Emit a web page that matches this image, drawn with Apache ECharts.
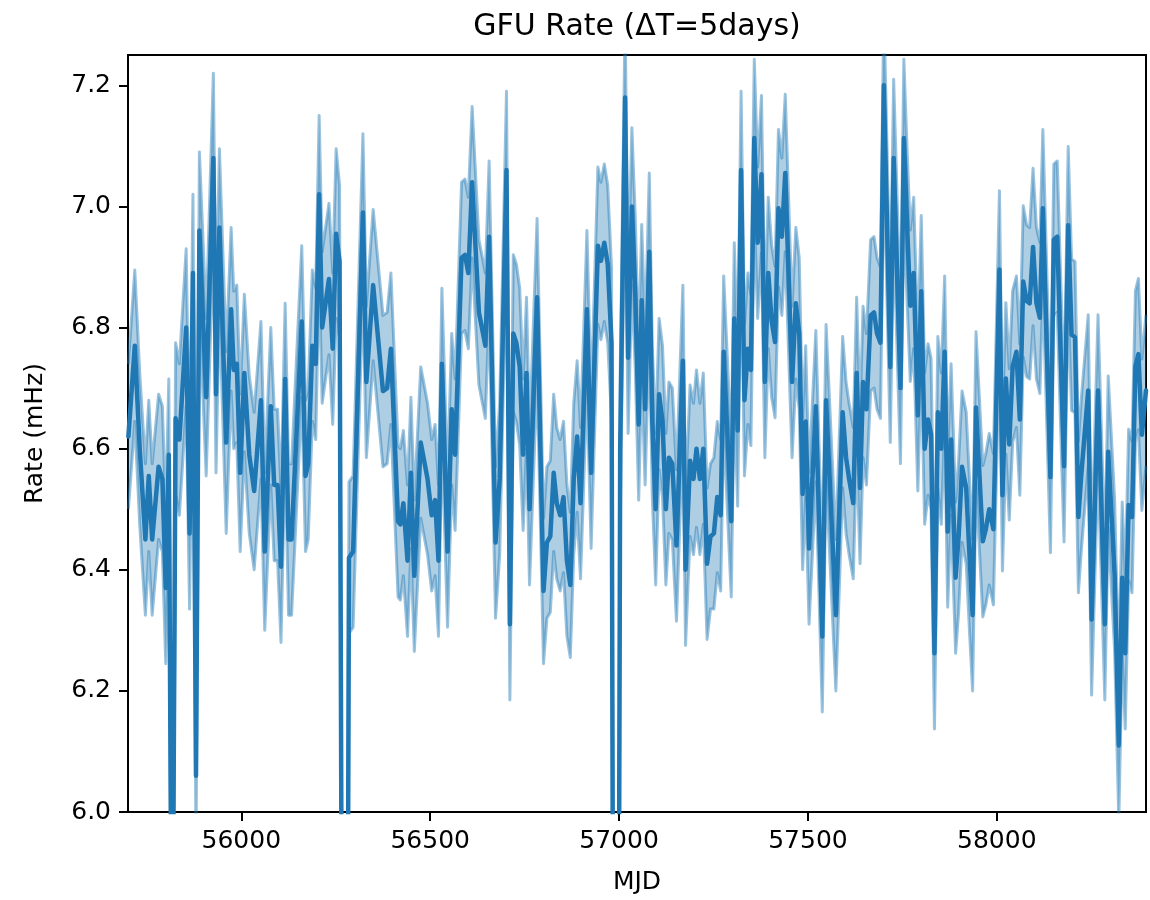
<!DOCTYPE html>
<html>
<head>
<meta charset="UTF-8">
<title>GFU Rate</title>
<script type="text/javascript" src="https://cdn.jsdelivr.net/npm/echarts@6/dist/echarts.min.js"></script>
<style>
  html, body { margin: 0; padding: 0; background: #fff; }
</style>
</head>
<body>

<div id="rate" style="width:1150px; height:900px"></div>
<script type="text/javascript">
// bin centres (MJD), one line per ~250 day stretch
var mjd = [
  55701, 55718, 55731, 55746, 55755, 55764, 55781, 55791, 55800, 55808, 55817, 55826, 55836, 55854, 55863, 55872, 55880, 55889, 55907, 55926, 55933, 55942,
  55960, 55973, 55980, 55988, 55997, 56008, 56021, 56034, 56052, 56062, 56078, 56087, 56096, 56105, 56116, 56125, 56133, 56160, 56170, 56177, 56188,
  56197, 56206, 56214, 56232, 56242, 56251, 56260, 56270, 56278, 56285, 56296, 56322, 56331, 56349, 56375, 56386, 56396, 56415, 56421, 56429, 56440,
  56449, 56458, 56475, 56493, 56504, 56513, 56522, 56531, 56546, 56557, 56566, 56583, 56592, 56601, 56611, 56629, 56646, 56656, 56673, 56684,
  56702, 56711, 56720, 56728, 56737, 56746, 56755, 56763, 56783, 56800, 56809, 56818, 56827, 56835, 56844, 56853, 56862, 56871, 56880, 56889, 56898, 56915, 56926,
  56944, 56952, 56961, 56970, 56980, 56987, 56996, 57003, 57016, 57024, 57034, 57043, 57052, 57060, 57069, 57080, 57088, 57097, 57106, 57115, 57124, 57132, 57141, 57152, 57169, 57176,
  57188, 57197, 57205, 57214, 57223, 57233, 57242, 57251, 57260, 57269, 57277, 57297, 57305, 57314, 57323, 57332, 57341, 57349, 57358, 57367, 57377, 57386, 57395, 57404, 57413, 57422,
  57431, 57440, 57458, 57468, 57477, 57486, 57494, 57503, 57521, 57538, 57548, 57574, 57592, 57601, 57609, 57620, 57629, 57638, 57646, 57655, 57666,
  57675, 57683, 57692, 57701, 57718, 57727, 57745, 57754, 57762, 57771, 57780, 57791, 57800, 57809, 57818, 57826, 57835, 57844, 57853, 57862, 57870, 57879, 57891, 57899, 57908,
  57919, 57928, 57936, 57945, 57963, 57971, 57980, 57991, 58007, 58015, 58024, 58033, 58042, 58052, 58061, 58070, 58079, 58087, 58096, 58105, 58114, 58122, 58142, 58151, 58160,
  58178, 58189, 58198, 58207, 58216, 58224, 58242, 58251, 58268, 58286, 58295, 58312, 58323, 58332, 58340, 58349, 58358, 58367, 58375, 58384, 58395
];

// rate in mHz
var rate = [
  6.62, 6.77, 6.60, 6.45, 6.555, 6.45, 6.57, 6.55, 6.37, 6.59, 5.60, 6.65, 6.615, 6.80, 6.46, 6.89, 6.06, 6.96, 6.685, 7.08, 6.69, 6.965,
  6.61, 6.83, 6.73, 6.74, 6.56, 6.725, 6.59, 6.53, 6.68, 6.43, 6.67, 6.54, 6.54, 6.405, 6.715, 6.45, 6.45, 6.81, 6.555, 6.575, 6.77,
  6.74, 7.02, 6.80, 6.88, 6.765, 6.955, 6.91, 5.0, 5.0, 6.42, 6.43, 6.99, 6.71, 6.87, 6.695, 6.70, 6.765, 6.48, 6.475, 6.51, 6.415,
  6.56, 6.39, 6.61, 6.55, 6.49, 6.515, 6.415, 6.74, 6.43, 6.665, 6.59, 6.915, 6.92, 6.89, 7.04, 6.825, 6.77, 6.95, 6.445, 6.55,
  7.06, 6.31, 6.79, 6.775, 6.735, 6.59, 6.725, 6.50, 6.85, 6.365, 6.445, 6.455, 6.56, 6.51, 6.49, 6.52, 6.415, 6.375, 6.55, 6.62, 6.51, 6.83, 6.56,
  6.935, 6.91, 6.94, 6.905, 6.775, 5.0, 5.0, 6.6, 7.18, 6.75, 7.00, 6.855, 6.64, 6.845, 6.665, 6.925, 6.645, 6.50, 6.69, 6.645, 6.50, 6.585, 6.575, 6.44, 6.745, 6.40,
  6.58, 6.55, 6.60, 6.55, 6.60, 6.41, 6.455, 6.46, 6.52, 6.49, 6.76, 6.48, 6.815, 6.63, 7.06, 6.68, 6.765, 6.73, 7.113, 6.94, 7.053, 6.71, 6.89, 6.81, 6.776, 6.997,
  6.95, 7.055, 6.71, 6.84, 6.79, 6.525, 6.645, 6.435, 6.67, 6.29, 6.68, 6.325, 6.66, 6.585, 6.55, 6.51, 6.725, 6.535, 6.71, 6.665, 6.82,
  6.825, 6.79, 6.775, 7.20, 6.735, 7.08, 6.70, 7.113, 6.977, 6.836, 6.89, 6.655, 6.86, 6.60, 6.648, 6.624, 6.262, 6.66, 6.60, 6.76, 6.463, 6.615, 6.387, 6.455, 6.57,
  6.535, 6.42, 6.325, 6.668, 6.447, 6.467, 6.50, 6.467, 6.896, 6.523, 6.716, 6.607, 6.736, 6.76, 6.648, 6.876, 6.844, 6.84, 6.933, 6.84, 6.816, 6.997, 6.553, 6.945, 6.95,
  6.571, 6.969, 6.788, 6.784, 6.487, 6.559, 6.696, 6.318, 6.696, 6.31, 6.595, 6.39, 6.11, 6.387, 6.262, 6.507, 6.487, 6.736, 6.756, 6.623, 6.696
];

// half width of the error band (mHz)
var rateErr = [
  0.12, 0.125, 0.125, 0.125, 0.125, 0.125, 0.12, 0.12, 0.125, 0.125, 0.125, 0.125, 0.125, 0.13, 0.125, 0.13, 0.125, 0.13, 0.13, 0.14, 0.13, 0.13,
  0.15, 0.135, 0.13, 0.13, 0.13, 0.13, 0.13, 0.13, 0.13, 0.13, 0.13, 0.125, 0.125, 0.125, 0.125, 0.125, 0.125, 0.125, 0.125, 0.125, 0.125,
  0.125, 0.13, 0.125, 0.125, 0.125, 0.14, 0.125, 0.125, 0.125, 0.125, 0.125, 0.13, 0.125, 0.125, 0.125, 0.125, 0.125, 0.125, 0.125, 0.12, 0.125,
  0.125, 0.125, 0.125, 0.125, 0.125, 0.125, 0.125, 0.125, 0.125, 0.125, 0.125, 0.125, 0.125, 0.125, 0.125, 0.12, 0.12, 0.125, 0.125, 0.125,
  0.13, 0.125, 0.13, 0.13, 0.13, 0.125, 0.125, 0.125, 0.13, 0.12, 0.125, 0.125, 0.13, 0.125, 0.125, 0.125, 0.125, 0.12, 0.125, 0.125, 0.125, 0.13, 0.125,
  0.13, 0.13, 0.13, 0.13, 0.125, 0.125, 0.125, 0.125, 0.13, 0.125, 0.13, 0.125, 0.125, 0.125, 0.125, 0.13, 0.125, 0.125, 0.125, 0.125, 0.125, 0.125, 0.125, 0.125, 0.125, 0.125,
  0.125, 0.125, 0.13, 0.125, 0.125, 0.125, 0.12, 0.125, 0.125, 0.125, 0.125, 0.125, 0.125, 0.125, 0.13, 0.125, 0.125, 0.125, 0.13, 0.125, 0.13, 0.125, 0.125, 0.125, 0.125, 0.13,
  0.13, 0.13, 0.125, 0.125, 0.125, 0.125, 0.125, 0.125, 0.125, 0.125, 0.125, 0.125, 0.125, 0.125, 0.125, 0.125, 0.125, 0.125, 0.125, 0.125, 0.125,
  0.125, 0.125, 0.125, 0.13, 0.125, 0.13, 0.125, 0.13, 0.125, 0.125, 0.125, 0.125, 0.125, 0.125, 0.125, 0.125, 0.125, 0.125, 0.125, 0.125, 0.125, 0.125, 0.125, 0.125, 0.125,
  0.125, 0.125, 0.125, 0.125, 0.125, 0.125, 0.125, 0.125, 0.13, 0.125, 0.125, 0.125, 0.125, 0.125, 0.125, 0.125, 0.125, 0.125, 0.13, 0.125, 0.125, 0.13, 0.125, 0.125, 0.125,
  0.125, 0.13, 0.125, 0.125, 0.125, 0.125, 0.125, 0.125, 0.125, 0.125, 0.125, 0.125, 0.125, 0.125, 0.125, 0.125, 0.125, 0.125, 0.125, 0.125, 0.125
];

var xTicks = [56000, 56500, 57000, 57500, 58000];
var yTicks = [6.0, 6.2, 6.4, 6.6, 6.8, 7.0, 7.2];

var FONT = 'DejaVu Sans';
var C0 = '#1f77b4';

var rateData = mjd.map(function (m, i) { return [m, rate[i]]; });
var upperData = mjd.map(function (m, i) { return [m, rate[i] + rateErr[i]]; });
var lowerData = mjd.map(function (m, i) { return [m, rate[i] - rateErr[i]]; });

// one filled polygon between the band edges, drawn once
function renderBand(params, api) {
  if (params.dataIndex !== 0) return null;
  var pts = [];
  var i;
  for (i = 0; i < upperData.length; i++) pts.push(api.coord(upperData[i]));
  for (i = lowerData.length - 1; i >= 0; i--) pts.push(api.coord(lowerData[i]));
  var cs = params.coordSys;
  return {
    type: 'polygon',
    shape: { points: pts },
    style: { fill: 'rgba(31,119,180,0.36)', stroke: null },
    clipPath: { type: 'rect', shape: { x: cs.x, y: cs.y, width: cs.width, height: cs.height } }
  };
}

var myChart = echarts.init(document.getElementById('rate'));

var option = {
  animation: false,
  backgroundColor: '#fff',
  title: {
    text: 'GFU Rate (\u0394T=5days)',
    left: 637,
    top: 12,
    padding: 0,
    textAlign: 'center',
    textStyle: { fontFamily: FONT, fontSize: 30, fontWeight: 'normal', color: '#000' }
  },
  grid: {
    left: 128, right: 4, top: 55, bottom: 88,
    show: true, borderColor: '#000', borderWidth: 2, backgroundColor: 'transparent'
  },
  xAxis: {
    type: 'value',
    min: 55700,
    max: 58395,
    name: 'MJD',
    nameLocation: 'middle',
    nameGap: 58,
    nameTextStyle: { fontFamily: FONT, fontSize: 25, color: '#000' },
    axisLine: { onZero: false, lineStyle: { color: '#000', width: 2 } },
    axisTick: { show: true, inside: false, length: 9, customValues: xTicks, lineStyle: { color: '#000', width: 2 } },
    axisLabel: {
      customValues: xTicks, margin: 17, fontFamily: FONT, fontSize: 25, color: '#000',
      formatter: function (v) { return String(v); }
    },
    splitLine: { show: false }
  },
  yAxis: {
    type: 'value',
    min: 6.0,
    max: 7.25,
    name: 'Rate (mHz)',
    nameLocation: 'middle',
    nameGap: 80,
    nameTextStyle: { fontFamily: FONT, fontSize: 25, color: '#000' },
    axisLine: { show: true, lineStyle: { color: '#000', width: 2 } },
    axisTick: { show: true, inside: false, length: 9, customValues: yTicks, lineStyle: { color: '#000', width: 2 } },
    axisLabel: {
      customValues: yTicks, margin: 17, fontFamily: FONT, fontSize: 25, color: '#000',
      formatter: function (v) { return v.toFixed(1); }
    },
    splitLine: { show: false }
  },
  series: [
    {
      name: 'bandFill',
      type: 'custom',
      renderItem: renderBand,
      data: rateData,
      encode: { x: 0, y: 1 },
      clip: true,
      silent: true,
      z: 1
    },
    {
      name: 'upper',
      type: 'line',
      data: upperData,
      symbol: 'none',
      lineStyle: { color: C0, opacity: 0.45, width: 3, join: 'round' },
      z: 2
    },
    {
      name: 'lower',
      type: 'line',
      data: lowerData,
      symbol: 'none',
      lineStyle: { color: C0, opacity: 0.45, width: 3, join: 'round' },
      z: 2
    },
    {
      name: 'rate',
      type: 'line',
      data: rateData,
      symbol: 'none',
      lineStyle: { color: C0, width: 4.5, join: 'round', cap: 'round' },
      z: 3
    }
  ]
};

myChart.setOption(option);
</script>
</body>
</html>
